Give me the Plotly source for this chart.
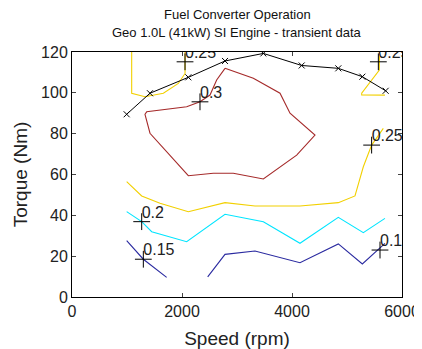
import plotly.graph_objects as go

# Max torque curve
max_speed = [994, 1418, 2115, 2782, 3479, 4176, 4842, 5279, 5703]
max_torque = [89.5, 99.8, 107.6, 115.6, 119.3, 113.4, 112.0, 107.9, 101.0]

# Efficiency contours (segments)
c30_speed = [2782, 3297, 3782, 3964, 4418, 4085, 3479, 2933, 2570, 2115, 1418, 1327, 1358, 1721, 2085, 2327, 2509, 2630, 2782]
c30_torque = [112.0, 107.1, 99.8, 90.0, 79.3, 69.5, 57.8, 60.6, 60.6, 59.4, 80.2, 89.5, 90.7, 92.0, 93.2, 95.6, 98.9, 106.3, 112.0]

c25a_speed = [1085, 1085, 1327, 1661, 1933, 2055, 2055, 2055]
c25a_torque = [120.0, 99.8, 98.1, 99.8, 104.6, 109.5, 115.2, 120.0]

c25b_speed = [5590, 5588, 5267, 5267, 5690]
c25b_torque = [120.0, 111.2, 99.8, 99.0, 98.9]

c25c_speed = [994, 1267, 1600, 2115, 2782, 3327, 4145, 4842, 5145, 5297, 5448, 5660]
c25c_torque = [56.5, 49.5, 45.9, 41.8, 46.2, 44.6, 44.6, 46.2, 49.5, 63.8, 74.4, 82.6]

c20_speed = [994, 1267, 1449, 2085, 2782, 3479, 4145, 4842, 5297, 5690]
c20_torque = [41.8, 36.9, 32.0, 27.1, 40.5, 36.9, 26.3, 39.0, 31.5, 38.5]

c15a_speed = [994, 1297, 1721]
c15a_torque = [27.6, 18.5, 9.6]

c15b_speed = [2467, 2782, 3327, 4145, 4842, 5279, 5690]
c15b_torque = [9.9, 20.9, 22.5, 16.8, 26.0, 16.2, 26.3]

# Contour labels
label_speed = [2055, 2327, 5570, 5448, 1267, 1297, 5600]
label_torque = [115.2, 95.6, 115.2, 74.4, 36.9, 18.5, 23.0]
label_text = ["0.25", "0.3", "0.25", "0.25", "0.2", "0.15", "0.15"]

x_ticks = [0, 2000, 4000, 6000]
y_ticks = [0, 20, 40, 60, 80, 100, 120]

title_lines = ["Fuel Converter Operation", "Geo 1.0L (41kW) SI Engine - transient data"]

FONT = "Liberation Sans, Arial, sans-serif"

fig = go.Figure()

def seg(x, y, color):
    fig.add_trace(go.Scatter(x=x, y=y, mode="lines",
                             line=dict(color=color, width=1.1),
                             hoverinfo="skip", showlegend=False))

seg(c25a_speed, c25a_torque, "#F2D000")
seg(c25b_speed, c25b_torque, "#F2D000")
seg(c25c_speed, c25c_torque, "#F2D000")
seg(c30_speed, c30_torque, "#A52A2A")
seg(c20_speed, c20_torque, "#00E5FF")
seg(c15a_speed, c15a_torque, "#2A2AA0")
seg(c15b_speed, c15b_torque, "#2A2AA0")

fig.add_trace(go.Scatter(x=max_speed, y=max_torque, mode="lines+markers",
                         line=dict(color="black", width=1),
                         marker=dict(symbol="x-thin", size=6,
                                     line=dict(color="black", width=1)),
                         showlegend=False))

fig.add_trace(go.Scatter(x=label_speed, y=label_torque, mode="markers",
                         marker=dict(symbol="cross-thin", size=12,
                                     line=dict(color="black", width=1)),
                         showlegend=False, cliponaxis=False))

fig.add_trace(go.Scatter(x=label_speed, y=label_torque, mode="text",
                         text=label_text, textposition="top right",
                         textfont=dict(family=FONT, size=16, color="#222"),
                         showlegend=False, cliponaxis=True))

fig.update_layout(
    width=414, height=341,
    margin=dict(l=64, r=20, t=44, b=52),
    paper_bgcolor="white", plot_bgcolor="white",
    font=dict(family=FONT, size=16, color="#222"),
)
for i, line in enumerate(title_lines):
    fig.add_annotation(text=line, xref="paper", yref="paper",
                       x=0.5, y=1, yshift=38 - 18 * i, xanchor="center", yanchor="middle",
                       showarrow=False, font=dict(family=FONT, size=13, color="#111"))

fig.update_xaxes(range=[0, 6000], tickvals=x_ticks, ticks="inside", ticklen=4,
                 showline=True, linecolor="black", linewidth=1, mirror="ticks",
                 showgrid=False, zeroline=False, automargin=False,
                 title=dict(text="Speed (rpm)", standoff=12))
fig.update_yaxes(range=[0, 120], tickvals=y_ticks, ticks="inside", ticklen=4,
                 showline=True, linecolor="black", linewidth=1, mirror="ticks",
                 showgrid=False, zeroline=False, automargin=False,
                 title=dict(text="Torque (Nm)", standoff=8))

fig.write_html("out.html")
